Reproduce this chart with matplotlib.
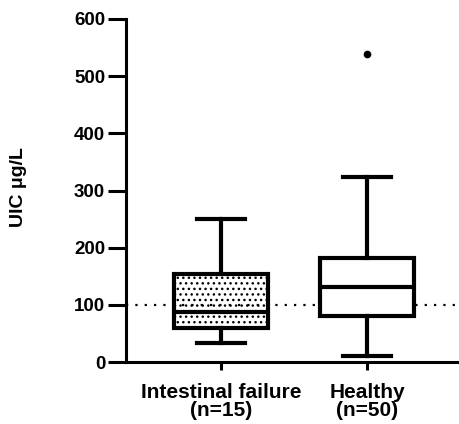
import matplotlib
matplotlib.use("Agg")
import matplotlib.pyplot as plt

plt.rcParams["font.family"] = ["Liberation Sans", "DejaVu Sans"]
plt.rcParams["hatch.linewidth"] = 1.0

groups = ["Intestinal failure\n(n=15)", "Healthy\n(n=50)"]
whislo = [34, 10]
q1 = [60, 81]
med = [88, 132]
q3 = [154, 182]
whishi = [250, 324]
fliers = [[], [539]]
reference_level = 100

stats = []
for i in range(len(groups)):
    stats.append({
        "whislo": whislo[i], "q1": q1[i], "med": med[i],
        "q3": q3[i], "whishi": whishi[i], "fliers": fliers[i],
    })

fig = plt.figure(figsize=(4.6, 4.24), dpi=100)
ax = fig.add_axes([0.2739, 0.1462, 0.7261, 0.809])

ax.axhline(reference_level, color="black", linewidth=1.6,
           linestyle=(0, (1, 3.2)), zorder=1)

bp = ax.bxp(
    stats, positions=[1, 2], widths=0.65, patch_artist=True,
    boxprops=dict(linewidth=3, edgecolor="black"),
    medianprops=dict(linewidth=3, color="black"),
    whiskerprops=dict(linewidth=3, color="black"),
    capprops=dict(linewidth=3, color="black"),
    flierprops=dict(marker="o", markerfacecolor="black",
                    markeredgecolor="black", markersize=4.5),
    capwidths=0.33, zorder=2,
)
bp["boxes"][0].set_facecolor("none")
bp["boxes"][0].set_hatch("...")
bp["boxes"][1].set_facecolor("white")

ax.set_xlim(0.349, 2.637)
ax.set_ylim(0, 600)
ax.set_yticks(range(0, 601, 100))
ax.set_xticks([1, 2])
ax.set_xticklabels(groups, fontweight="bold", fontsize=15, linespacing=0.95)
for lab in ax.get_yticklabels():
    lab.set_fontweight("bold")
    lab.set_fontsize(13.5)

for side in ["top", "right"]:
    ax.spines[side].set_visible(False)
for side in ["left", "bottom"]:
    ax.spines[side].set_linewidth(2.2)
ax.tick_params(axis="y", width=2.2, length=13, pad=2)
ax.tick_params(axis="x", width=2.2, length=6, pad=9)

ax.set_ylabel("UIC μg/L", fontweight="bold", fontsize=14)
ax.yaxis.set_label_coords(-0.296, 0.51)

fig.savefig("out.png", dpi=100)
